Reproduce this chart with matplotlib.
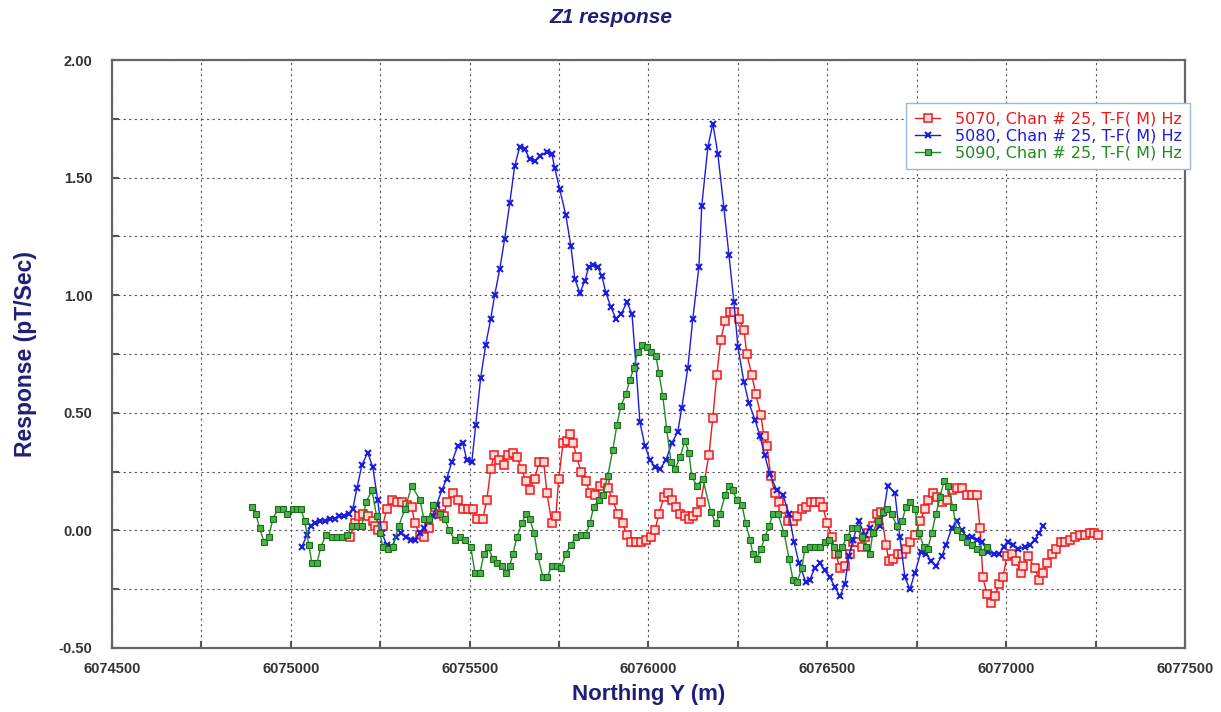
import numpy as np
import matplotlib
matplotlib.use("Agg")
import matplotlib.pyplot as plt
from matplotlib.ticker import MultipleLocator, FormatStrFormatter

plt.rcParams['font.family'] = ['Liberation Sans', 'DejaVu Sans']

# 5070, chan 25
red_x = [6075165, 6075179, 6075190, 6075201, 6075215, 6075229, 6075235, 6075243, 6075257, 6075268,
         6075282, 6075296, 6075310, 6075324, 6075338, 6075347, 6075361, 6075372, 6075386, 6075403,
         6075417, 6075428, 6075436, 6075453, 6075467, 6075481, 6075495, 6075509, 6075520, 6075537,
         6075548, 6075559, 6075568, 6075582, 6075596, 6075607, 6075621, 6075632, 6075646, 6075657,
         6075668, 6075682, 6075694, 6075707, 6075716, 6075730, 6075741, 6075749, 6075761, 6075772,
         6075780, 6075789, 6075800, 6075811, 6075825, 6075836, 6075850, 6075864, 6075878, 6075886,
         6075900, 6075914, 6075928, 6075940, 6075951, 6075965, 6075979, 6075993, 6076007, 6076018,
         6076029, 6076043, 6076054, 6076065, 6076077, 6076088, 6076102, 6076113, 6076124, 6076135,
         6076146, 6076169, 6076180, 6076191, 6076202, 6076214, 6076228, 6076239, 6076253, 6076267,
         6076275, 6076289, 6076300, 6076314, 6076323, 6076331, 6076342, 6076353, 6076365, 6076376,
         6076390, 6076404, 6076415, 6076429, 6076440, 6076454, 6076465, 6076479, 6076488, 6076499,
         6076513, 6076524, 6076535, 6076549, 6076563, 6076572, 6076583, 6076597, 6076605, 6076613,
         6076627, 6076639, 6076650, 6076664, 6076672, 6076683, 6076697, 6076709, 6076720, 6076731,
         6076745, 6076759, 6076773, 6076781, 6076795, 6076806, 6076820, 6076834, 6076848, 6076862,
         6076876, 6076890, 6076904, 6076918, 6076927, 6076935, 6076946, 6076957, 6076969, 6076980,
         6076991, 6077002, 6077016, 6077027, 6077041, 6077047, 6077061, 6077080, 6077092, 6077103,
         6077114, 6077128, 6077139, 6077153, 6077164, 6077178, 6077192, 6077206, 6077220, 6077234,
         6077246, 6077257]
red_y = [-0.03, 0.03, 0.06, 0.07, 0.06, 0.04, 0.02, 0.00, 0.02, 0.09,
         0.13, 0.12, 0.12, 0.11, 0.10, 0.03, -0.02, -0.03, 0.01, 0.10,
         0.07, 0.06, 0.12, 0.16, 0.13, 0.09, 0.09, 0.09, 0.05, 0.05,
         0.13, 0.26, 0.32, 0.30, 0.28, 0.32, 0.33, 0.31, 0.26, 0.21,
         0.17, 0.22, 0.29, 0.29, 0.16, 0.03, 0.06, 0.22, 0.37, 0.38,
         0.41, 0.37, 0.31, 0.25, 0.21, 0.16, 0.15, 0.19, 0.20, 0.18,
         0.13, 0.07, 0.03, -0.02, -0.05, -0.05, -0.05, -0.04, -0.03, 0.00,
         0.07, 0.14, 0.16, 0.13, 0.10, 0.07, 0.06, 0.05, 0.06, 0.08,
         0.12, 0.32, 0.48, 0.66, 0.81, 0.89, 0.93, 0.93, 0.90, 0.85,
         0.75, 0.66, 0.58, 0.49, 0.40, 0.36, 0.23, 0.16, 0.12, 0.09,
         0.04, 0.04, 0.06, 0.09, 0.10, 0.12, 0.12, 0.12, 0.10, 0.03,
         -0.03, -0.10, -0.16, -0.15, -0.10, -0.05, -0.05, -0.07, -0.03, -0.01,
         0.02, 0.07, 0.08, -0.06, -0.13, -0.12, -0.10, -0.10, -0.08, -0.05,
         -0.02, 0.04, 0.09, 0.13, 0.16, 0.14, 0.12, 0.13, 0.17, 0.18,
         0.18, 0.15, 0.15, 0.15, 0.01, -0.20, -0.27, -0.31, -0.28, -0.23,
         -0.20, -0.11, -0.10, -0.13, -0.18, -0.15, -0.11, -0.16, -0.21, -0.18,
         -0.14, -0.10, -0.08, -0.05, -0.05, -0.04, -0.03, -0.02, -0.02, -0.01,
         -0.01, -0.02]

# 5080, chan 25
blue_x = [6075031, 6075045, 6075056, 6075067, 6075081, 6075095, 6075109, 6075123, 6075134, 6075148,
          6075162, 6075173, 6075185, 6075199, 6075215, 6075229, 6075243, 6075254, 6075268, 6075282,
          6075294, 6075308, 6075322, 6075336, 6075347, 6075361, 6075372, 6075383, 6075397, 6075408,
          6075422, 6075436, 6075450, 6075467, 6075481, 6075492, 6075506, 6075517, 6075531, 6075545,
          6075559, 6075570, 6075584, 6075598, 6075612, 6075626, 6075640, 6075654, 6075668, 6075682,
          6075696, 6075716, 6075730, 6075738, 6075752, 6075769, 6075783, 6075794, 6075808, 6075822,
          6075833, 6075845, 6075858, 6075870, 6075881, 6075895, 6075909, 6075923, 6075940, 6075954,
          6075965, 6075976, 6075990, 6076004, 6076018, 6076032, 6076049, 6076065, 6076082, 6076093,
          6076110, 6076124, 6076141, 6076149, 6076166, 6076180, 6076194, 6076211, 6076225, 6076239,
          6076250, 6076267, 6076281, 6076298, 6076312, 6076325, 6076339, 6076359, 6076376, 6076393,
          6076407, 6076421, 6076440, 6076451, 6076465, 6076479, 6076493, 6076507, 6076521, 6076535,
          6076549, 6076560, 6076572, 6076588, 6076605, 6076619, 6076630, 6076647, 6076658, 6076669,
          6076689, 6076703, 6076717, 6076731, 6076745, 6076762, 6076776, 6076790, 6076804, 6076820,
          6076832, 6076848, 6076862, 6076876, 6076890, 6076904, 6076918, 6076932, 6076949, 6076966,
          6076980, 6076994, 6077005, 6077019, 6077033, 6077053, 6077067, 6077080, 6077092, 6077103]
blue_y = [-0.07, -0.02, 0.02, 0.03, 0.04, 0.04, 0.05, 0.05, 0.06, 0.06,
          0.07, 0.09, 0.18, 0.28, 0.33, 0.27, 0.13, -0.01, -0.06, -0.07,
          -0.03, -0.01, -0.03, -0.04, -0.04, -0.01, 0.01, 0.04, 0.06, 0.11,
          0.17, 0.22, 0.29, 0.36, 0.37, 0.30, 0.29, 0.45, 0.65, 0.79,
          0.90, 1.00, 1.11, 1.24, 1.39, 1.55, 1.63, 1.62, 1.58, 1.57,
          1.59, 1.61, 1.60, 1.54, 1.45, 1.34, 1.21, 1.07, 1.01, 1.06,
          1.12, 1.13, 1.12, 1.08, 1.01, 0.95, 0.90, 0.92, 0.97, 0.92,
          0.70, 0.46, 0.36, 0.30, 0.27, 0.26, 0.30, 0.37, 0.42, 0.52,
          0.69, 0.90, 1.12, 1.38, 1.63, 1.73, 1.60, 1.37, 1.17, 0.97,
          0.78, 0.63, 0.54, 0.47, 0.40, 0.32, 0.24, 0.17, 0.15, 0.07,
          -0.05, -0.14, -0.22, -0.21, -0.16, -0.14, -0.17, -0.20, -0.24, -0.28,
          -0.23, -0.11, -0.04, 0.04, -0.02, 0.01, -0.01, 0.02, 0.08, 0.19,
          0.16, -0.03, -0.20, -0.25, -0.18, -0.09, -0.10, -0.13, -0.15, -0.11,
          -0.06, 0.01, 0.04, 0.00, -0.03, -0.03, -0.04, -0.05, -0.09, -0.10,
          -0.10, -0.07, -0.05, -0.06, -0.08, -0.07, -0.06, -0.04, -0.01, 0.02]

# 5090, chan 25
green_x = [6074891, 6074902, 6074913, 6074925, 6074938, 6074950, 6074964, 6074978, 6074989, 6075006,
           6075017, 6075028, 6075039, 6075050, 6075059, 6075073, 6075084, 6075098, 6075115, 6075129,
           6075143, 6075157, 6075171, 6075185, 6075199, 6075210, 6075227, 6075240, 6075249, 6075257,
           6075271, 6075285, 6075302, 6075319, 6075338, 6075361, 6075372, 6075386, 6075397, 6075417,
           6075431, 6075442, 6075459, 6075473, 6075487, 6075503, 6075515, 6075529, 6075540, 6075551,
           6075565, 6075576, 6075590, 6075601, 6075612, 6075621, 6075632, 6075646, 6075657, 6075668,
           6075680, 6075691, 6075705, 6075716, 6075730, 6075744, 6075755, 6075769, 6075783, 6075797,
           6075811, 6075825, 6075836, 6075847, 6075861, 6075872, 6075886, 6075900, 6075912, 6075923,
           6075937, 6075948, 6075959, 6075970, 6075982, 6075996, 6076007, 6076021, 6076029, 6076040,
           6076051, 6076063, 6076074, 6076088, 6076102, 6076113, 6076121, 6076135, 6076152, 6076174,
           6076188, 6076200, 6076214, 6076225, 6076236, 6076247, 6076261, 6076272, 6076284, 6076292,
           6076303, 6076314, 6076325, 6076337, 6076348, 6076362, 6076379, 6076393, 6076404, 6076415,
           6076429, 6076437, 6076451, 6076465, 6076479, 6076493, 6076504, 6076518, 6076530, 6076541,
           6076555, 6076569, 6076583, 6076597, 6076608, 6076619, 6076627, 6076641, 6076655, 6076666,
           6076680, 6076694, 6076709, 6076720, 6076731, 6076745, 6076756, 6076770, 6076781, 6076792,
           6076804, 6076815, 6076826, 6076837, 6076851, 6076862, 6076876, 6076890, 6076904, 6076918,
           6076932, 6076946]
green_y = [0.10, 0.07, 0.01, -0.05, -0.03, 0.05, 0.09, 0.09, 0.07, 0.09,
           0.09, 0.09, 0.04, -0.06, -0.14, -0.14, -0.07, -0.02, -0.03, -0.03,
           -0.03, -0.02, 0.02, 0.02, 0.02, 0.12, 0.17, 0.06, -0.01, -0.07,
           -0.08, -0.07, 0.02, 0.09, 0.19, 0.13, 0.05, 0.05, 0.11, 0.07,
           0.05, 0.00, -0.04, -0.03, -0.04, -0.07, -0.18, -0.18, -0.10, -0.07,
           -0.12, -0.14, -0.15, -0.18, -0.15, -0.10, -0.03, 0.03, 0.07, 0.05,
           -0.01, -0.11, -0.20, -0.20, -0.15, -0.15, -0.16, -0.10, -0.06, -0.03,
           -0.02, -0.02, 0.03, 0.10, 0.13, 0.15, 0.23, 0.34, 0.45, 0.53,
           0.58, 0.64, 0.69, 0.76, 0.79, 0.78, 0.76, 0.74, 0.67, 0.57,
           0.43, 0.29, 0.26, 0.31, 0.38, 0.33, 0.23, 0.19, 0.22, 0.08,
           0.03, 0.07, 0.15, 0.19, 0.17, 0.13, 0.11, 0.03, -0.04, -0.10,
           -0.12, -0.08, -0.03, 0.02, 0.07, 0.07, -0.01, -0.12, -0.21, -0.22,
           -0.16, -0.08, -0.07, -0.07, -0.07, -0.05, -0.04, -0.07, -0.10, -0.07,
           -0.03, 0.01, 0.01, -0.03, -0.07, -0.10, -0.01, 0.04, 0.08, 0.09,
           0.07, 0.02, 0.04, 0.10, 0.12, 0.09, -0.01, -0.07, -0.08, -0.01,
           0.07, 0.14, 0.21, 0.19, 0.10, 0.00, -0.03, -0.05, -0.06, -0.08,
           -0.09, -0.07]

labels = ["5070, Chan # 25, T-F( M) Hz",
          "5080, Chan # 25, T-F( M) Hz",
          "5090, Chan # 25, T-F( M) Hz"]
colors = ["#f01818", "#1c1ce0", "#1e8c1e"]

navy = "#1f1f78"

fig = plt.figure(figsize=(12.21, 7.12), dpi=100)
ax = fig.add_axes([0.0917, 0.0899, 0.8788, 0.8258])

ax.plot(red_x, red_y, color=colors[0], lw=1, marker='s', ms=5.5,
        mfc='#ffdcdc', mec=colors[0], mew=1.1, label=labels[0])
ax.plot(blue_x, blue_y, color=colors[1], lw=1, marker='x', ms=5,
        mew=1.5, label=labels[1])
ax.plot(green_x, green_y, color=colors[2], lw=1, marker='s', ms=3.8,
        mfc='#4caf4c', mec='#1a6e1a', mew=0.8, label=labels[2])

ax.set_xlim(6074500, 6077500)
ax.set_ylim(-0.5, 2.0)
ax.xaxis.set_major_locator(MultipleLocator(500))
ax.xaxis.set_minor_locator(MultipleLocator(250))
ax.yaxis.set_major_locator(MultipleLocator(0.5))
ax.yaxis.set_minor_locator(MultipleLocator(0.25))
ax.yaxis.set_major_formatter(FormatStrFormatter('%.2f'))
ax.xaxis.set_major_formatter(FormatStrFormatter('%d'))
ax.grid(True, which='both', ls=(0, (2, 3)), color='#555555', lw=0.8)
ax.tick_params(which='both', direction='in', length=5, width=1.5, color='#555555',
               labelsize=10.5, labelcolor='#333333')
ax.tick_params(axis='x', pad=10)
ax.tick_params(axis='y', pad=14)
for lab in ax.get_xticklabels() + ax.get_yticklabels():
    lab.set_fontweight('bold')
for sp in ax.spines.values():
    sp.set_color('#666666')
    sp.set_linewidth(1.6)

ax.set_xlabel("Northing Y (m)", fontsize=16, fontweight='bold', color=navy, labelpad=6)
ax.set_ylabel("Response (pT/Sec)", fontsize=16.5, fontweight='bold', color=navy, labelpad=16)
fig.text(0.5, 0.975, "Z1 response", ha='center', va='center', fontsize=15,
         fontweight='bold', fontstyle='italic', color=navy)

leg = ax.legend(loc='upper left', bbox_to_anchor=(0.74, 0.927),
                prop={'family': 'DejaVu Sans', 'size': 11.5},
                handlelength=1.6, handletextpad=0.9, borderpad=0.55, labelspacing=0.12,
                borderaxespad=0, fancybox=False, framealpha=1, edgecolor='#9ab8dc')
for txt, c in zip(leg.get_texts(), colors):
    txt.set_color(c)

fig.savefig("out.png", dpi=100)
